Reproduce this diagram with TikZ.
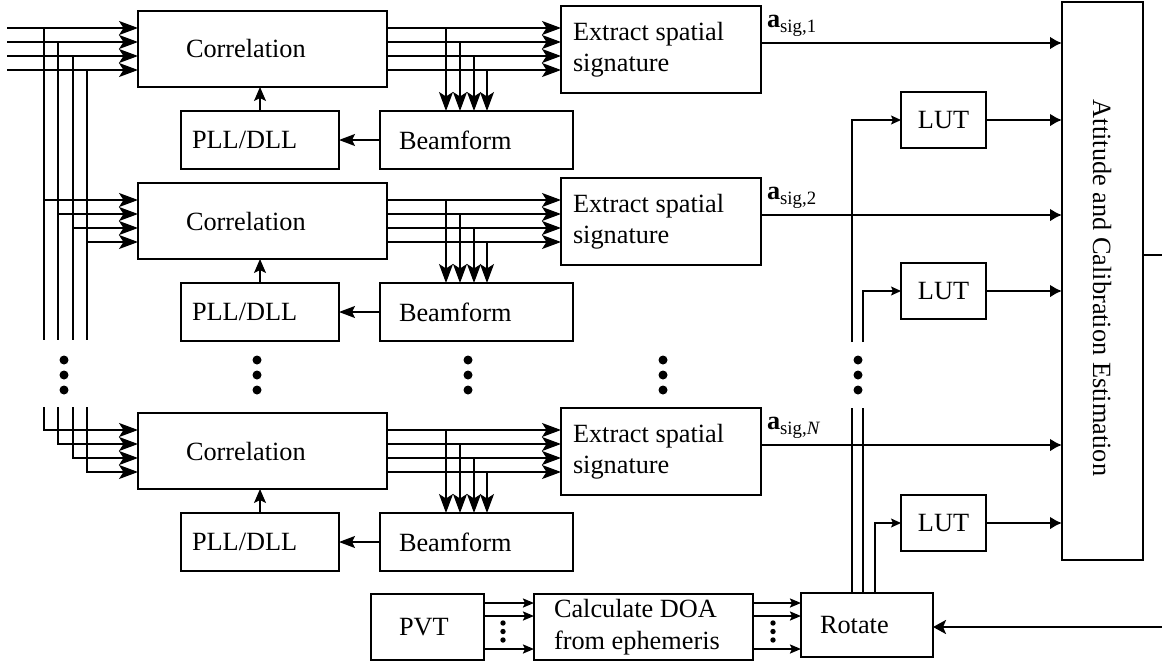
\documentclass[tikz,border=0pt]{standalone}
\usepackage{fontspec}
\setmainfont{Liberation Serif}
\usetikzlibrary{arrows.meta,calc}
\newcommand\asiglabel[1]{\textbf{a}\raisebox{-5pt}{\fontsize{18.8}{20}\selectfont sig,#1}}
\begin{document}
\begin{tikzpicture}[x=1pt,y=-1pt,
  font=\fontsize{26.3}{31.5}\selectfont,
  every node/.style={inner sep=0pt, outer sep=0pt},
  box/.style={draw, line width=1.2pt, anchor=north west, inner sep=0pt},
  thinline/.style={line width=1.3pt},
  heavyline/.style={line width=2.6pt},
  midline/.style={line width=2pt},
  bigtip/.style={-{Stealth[length=19pt,width=14pt,inset=4.5pt]}},
  uptip/.style={-{Stealth[length=14pt,width=12pt,inset=3pt]}},
  lefttip/.style={-{Stealth[length=16pt,width=12pt,inset=3pt]}},
  outtip/.style={-{Latex[length=12pt,width=13pt]}},
  smalltip/.style={-{Stealth[length=10pt,width=9pt,inset=2pt]}},
  pvttip/.style={-{Stealth[length=11pt,width=9pt,inset=2pt]}},
  fbtip/.style={-{Stealth[length=13pt,width=14pt,inset=3pt]}},
]
\useasboundingbox (0,0) rectangle (1162,667);

% attitude box
\node[box, minimum width=81pt, minimum height=558pt] (att) at (1062,2) {};
\node[rotate=-90] (attt) at (1102,288) {Attitude and Calibration Estimation};

% rows
\foreach \r/\o/\s in {1/0/1, 2/172/2, 3/402/\textit{N}} {
  \node[box, minimum width=249pt, minimum height=76pt] (cor\r) at (138,11+\o) {};
  \node[anchor=west] (cort\r) at ([xshift=48pt]cor\r.west) {Correlation};
  \node[box, minimum width=158pt, minimum height=58pt] (pll\r) at (181,111+\o) {};
  \node[anchor=west] (pllt\r) at ([xshift=11pt]pll\r.west) {PLL/DLL};
  \node[box, minimum width=193pt, minimum height=58pt] (bf\r) at (380,111+\o) {};
  \node[anchor=west] (bft\r) at ([xshift=19pt]bf\r.west) {Beamform};
  \node[box, minimum width=200pt, minimum height=87pt] (ex\r) at (561,6+\o) {};
  \node[anchor=west, align=left] (ext\r) at ([xshift=12pt]ex\r.west) {Extract spatial\\signature};
  % correlation -> extract, with taps to beamform
  \foreach \k/\tx in {0/446,1/460,2/474,3/487} {
    \draw[thinline, bigtip] (cor\r.east |- 0,{28+14*\k+\o}) -- (ex\r.west |- 0,{28+14*\k+\o});
    \draw[thinline, bigtip] (\tx,{28+14*\k+\o}) -- (\tx,0 |- bf\r.north);
  }
  % feedback loop
  \draw[thinline, uptip] (pll\r.north) -- (pll\r.north |- cor\r.south);
  \draw[thinline, lefttip] (bf\r.west) -- (bf\r.west -| pll\r.east);
  % output
  \draw[heavyline, outtip] (ex\r.east |- 0,{43+\o}) -- (att.west |- 0,{43+\o});
  \node[anchor=base west] (lab\r) at (767,{27+\o}) {\asiglabel{\s}};
}

% input lines
\foreach \k/\vx in {0/44,1/58,2/73,3/87} {
  \coordinate (in\k) at (7,{28+14*\k});
  \coordinate (va\k) at (\vx,{28+14*\k});
  \coordinate (vb\k) at (\vx,340);
  \coordinate (vc\k) at (\vx,407);
  \draw[thinline, bigtip] (in\k) -- (in\k -| cor1.west);
  \draw[thinline] (va\k) -- (vb\k);
  \draw[thinline, bigtip] (\vx,{200+14*\k}) -- (cor2.west |- 0,{200+14*\k});
  \draw[thinline, bigtip] (vc\k) |- (cor3.west |- 0,{430+14*\k});
}

% dots columns
\foreach \x in {64,257,468,663,858} {
  \foreach \y in {360,375,390} {
    \fill (\x,\y) circle[radius=4.5pt];
  }
}

% LUTs
\foreach \i/\y in {1/92, 2/263, 3/495} {
  \node[box, minimum width=85pt, minimum height=56pt] (lut\i) at (901,\y) {LUT};
  \draw[heavyline, outtip] (lut\i.east) -- (lut\i.east -| att.west);
}

% rotate
\node[box, minimum width=132pt, minimum height=64pt] (rot) at (801,593) {};
\node[anchor=west] (rott) at ([xshift=19pt]rot.west) {Rotate};
\coordinate (g1a) at (852,342);
\coordinate (g1b) at (852,408);
\coordinate (g2a) at (863,342);
\coordinate (g2b) at (863,408);
\draw[thinline] (rot.north -| g1b) -- (g1b);
\draw[thinline, smalltip] (g1a) |- (lut1.west);
\draw[thinline] (rot.north -| g2b) -- (g2b);
\draw[thinline, smalltip] (g2a) |- (lut2.west);
\draw[thinline, smalltip] (rot.north -| 875,0) |- (lut3.west);

% PVT and DOA
\node[box, minimum width=113pt, minimum height=66pt] (pvt) at (371,594) {};
\node[anchor=west] (pvtt) at ([xshift=28pt]pvt.west) {PVT};
\node[box, minimum width=219pt, minimum height=66pt] (doa) at (534,594) {};
\node[anchor=west, align=left] (doat) at ([xshift=20pt]doa.west) {Calculate DOA\\from ephemeris};
\foreach \y in {603,616,649} {
  \draw[midline, pvttip] (pvt.east |- 0,\y) -- (doa.west |- 0,\y);
  \draw[midline, pvttip] (doa.east |- 0,\y) -- (rot.west |- 0,\y);
}
\foreach \x in {503,773} {
  \foreach \y in {623,631.5,640} {
    \fill (\x,\y) circle[radius=2.7pt];
  }
}

% feedback from attitude output
\coordinate (fb) at (1162,627);
\draw[heavyline, fbtip] (fb) -- (fb -| rot.east);
\coordinate (ao) at (1162,255);
\draw[heavyline] (att.east |- ao) -- (ao);
\end{tikzpicture}
\end{document}
